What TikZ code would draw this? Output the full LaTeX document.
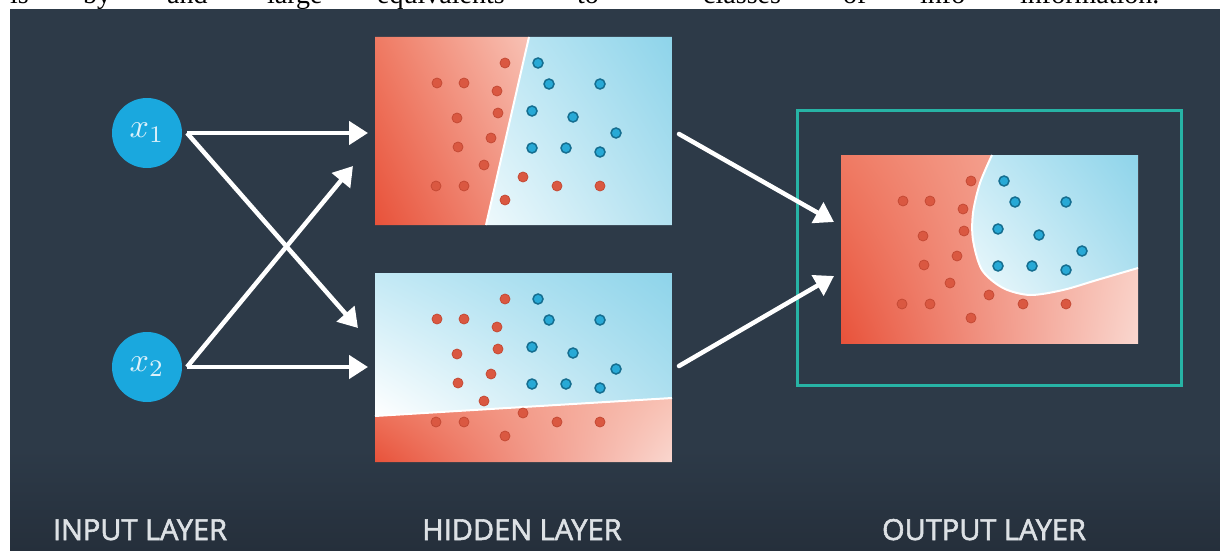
\documentclass[tikz,border=0pt]{standalone}
\usepackage{graphicx}
\usepackage{fontspec}
\setmainfont{Liberation Serif}
\newfontfamily\labelfont{Open Sans}[FakeBold=2]
\usetikzlibrary{arrows.meta,shadings}

\definecolor{bgdark}{HTML}{2D3A48}
\definecolor{bgdeep}{HTML}{252F3B}
\definecolor{incyan}{HTML}{1AA8DE}
\definecolor{intext}{HTML}{DDF1FA}
\definecolor{framecol}{HTML}{27B3A5}
\definecolor{dotred}{HTML}{DA5841}
\definecolor{dotredline}{HTML}{C44A35}
\definecolor{dotblue}{HTML}{27A9D6}
\definecolor{dotblueline}{HTML}{156E90}
\definecolor{labelgray}{HTML}{DDE1E5}
% gradient stops for the class regions
\definecolor{rA}{HTML}{E8523A}
\definecolor{rB}{HTML}{EF7A63}
\definecolor{rC}{HTML}{F8C2B5}
\definecolor{rD}{HTML}{F29684}
\definecolor{rE}{HTML}{FAD7CF}
\definecolor{bA}{HTML}{8ED4EA}
\definecolor{bB}{HTML}{C3E9F5}
\definecolor{bC}{HTML}{EEF9FC}
\definecolor{bD}{HTML}{B2E1F0}

% the same scatter of points, relative to a panel's top-left corner
\newcommand\redpoints{(130,26),(62,46),(89,46),(122,54),(82,81),(123,76),(116,101),(83,110),(109,128),(148,140),(61,149),(89,149),(182,149),(225,149),(130,163)}
\newcommand\bluepoints{(163,26),(174,47),(225,47),(157,74),(198,80),(241,96),(157,111),(191,111),(225,115)}
\newcommand\drawpoints{%
  \foreach \p in \redpoints {\fill[rdot] \p circle (5);}%
  \foreach \p in \bluepoints {\fill[bdot] \p circle (5);}%
}

\begin{document}
\begin{tikzpicture}[x=1pt,y=-1pt,
  panel/.style={minimum width=297pt,minimum height=188pt,inner sep=0pt,draw=none},
  inputnode/.style={circle,fill=incyan,minimum size=70pt,inner sep=0pt,text=intext},
  flow/.style={draw=white,line width=4.5pt,-{Triangle[length=19pt,width=23pt]}},
  boundary/.style={draw=white,line width=2pt},
  rdot/.style={fill=dotred,draw=dotredline,line width=0.8pt},
  bdot/.style={fill=dotblue,draw=dotblueline,line width=1.5pt},
  layerlabel/.style={text=labelgray,font=\labelfont\fontsize{29}{32}\selectfont,anchor=base,inner sep=0pt},
  topword/.style={anchor=base west,inner sep=0pt,font=\fontsize{28}{30}\selectfont}
]
\useasboundingbox (0,0) rectangle (1220,551);

% running text line above the slide
\node[topword] (w1) at (10,4) {is};
\node[topword] (w2) at (83,4) {by};
\node[topword] (w3) at (167,4) {and};
\node[topword] (w4) at (267,4) {large};
\node[topword] (w5) at (377,4) {equivalents};
\node[topword] (w6) at (577,4) {to};
\node[topword] (w7) at (703,4) {classes};
\node[topword] (w8) at (843,4) {of};
\node[topword] (w9) at (920,4) {info};
\node[topword] (w10) at (1020,4) {information.};

% slide background
\fill[bgdark] (10,9) rectangle (1220,551);
\shade[top color=bgdark,bottom color=bgdeep] (10,450) rectangle (1220,551);

% panels
\node[panel] (h1) at (523.5,131) {};
\node[panel] (h2) at (523.5,367.5) {};
\node[panel] (out) at (989.5,249) {};

% hidden unit 1: straight boundary, nearly vertical
\begin{scope}
  \clip (375,37) -- (529,37) -- (486,225) -- (375,225) -- cycle;
  \shade[upper left=rB,upper right=rC,lower left=rA,lower right=rD] (375,37) rectangle (529,225);
\end{scope}
\begin{scope}
  \clip (529,37) -- (672,37) -- (672,225) -- (486,225) -- cycle;
  \shade[upper left=bB,upper right=bA,lower left=bC,lower right=bD] (486,37) rectangle (672,225);
\end{scope}
\draw[boundary] (529,37) -- (486,225);
\begin{scope}[shift={(375,37)}]
  \drawpoints
\end{scope}

% hidden unit 2: straight boundary, nearly horizontal
\begin{scope}
  \clip (375,273) -- (672,273) -- (672,398) -- (375,416) -- cycle;
  \shade[upper left=bB,upper right=bA,lower left=white,lower right=bD] (375,273) rectangle (672,416);
\end{scope}
\begin{scope}
  \clip (375,416) -- (672,398) -- (672,462) -- (375,462) -- cycle;
  \shade[upper left=rB,upper right=rC,lower left=rA,lower right=rE] (375,398) rectangle (672,462);
\end{scope}
\draw[boundary] (375,416) -- (672,398);
\begin{scope}[shift={(375,273)}]
  \drawpoints
\end{scope}

% output unit: curved boundary
\shade[upper left=rB,upper right=rC,lower left=rA,lower right=rE] (841,155) rectangle (1138,343);
\begin{scope}
  \clip plot[smooth] coordinates {(992,155) (980,183) (973,213) (973,240) (982,270) (1003,288) (1030,295) (1063,290) (1097,280) (1138,268)} -- (1138,155) -- cycle;
  \shade[upper left=bB,upper right=bA,lower left=bC,lower right=bD] (973,155) rectangle (1138,295);
\end{scope}
\draw[boundary] plot[smooth] coordinates {(992,155) (980,183) (973,213) (973,240) (982,270) (1003,288) (1030,295) (1063,290) (1097,280) (1138,268)};
\begin{scope}[shift={(841,155)}]
  \drawpoints
\end{scope}

% highlight frame round the output
\node[draw=framecol,line width=3pt,minimum width=384pt,minimum height=275pt,inner sep=0pt] (frame) at (989,247.5) {};

% inputs
\node[inputnode] (x1) at (147,133) {\scalebox{3.4}{$x_1$}};
\node[inputnode] (x2) at (147,367) {\scalebox{3.4}{$x_2$}};

% connector ends
\coordinate (s1) at (187,133);
\coordinate (s2) at (187,367);
\coordinate (e11) at (368,133);
\coordinate (e12) at (358,328);
\coordinate (e21) at (353,166);
\coordinate (e22) at (368,367);
\coordinate (h1s) at (679,134);
\coordinate (h2s) at (679,366);
\coordinate (o1) at (834,222);
\coordinate (o2) at (834,276);

\draw[flow] (s1) -- (e11);
\draw[flow] (s1) -- (e12);
\draw[flow] (s2) -- (e21);
\draw[flow] (s2) -- (e22);
\draw[flow,line cap=round] (h1s) -- (o1);
\draw[flow,line cap=round] (h2s) -- (o2);

% layer captions
\node[layerlabel] (l1) at (140,540) {INPUT LAYER};
\node[layerlabel] (l2) at (522,540) {HIDDEN LAYER};
\node[layerlabel] (l3) at (984,540) {OUTPUT LAYER};
\end{tikzpicture}
\end{document}
